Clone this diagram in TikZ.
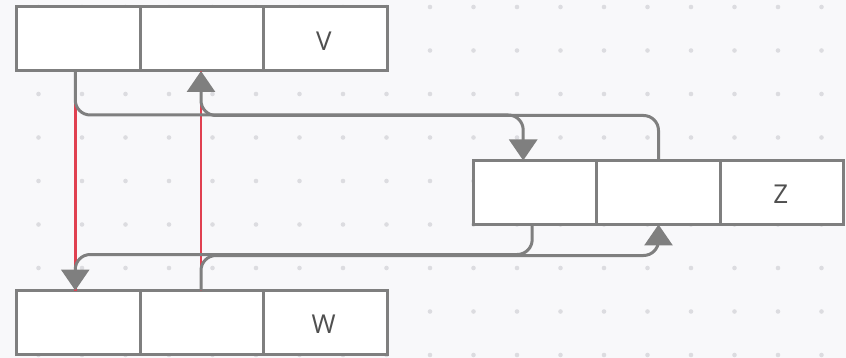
\documentclass[tikz,border=0pt]{standalone}
\usepackage{fontspec}
\setmainfont{Open Sans}
\usetikzlibrary{arrows.meta}
\definecolor{bgcol}{HTML}{F8F8FA}
\definecolor{dotcol}{HTML}{DCDCE0}
\definecolor{linecol}{HTML}{7F7F7F}
\definecolor{redcol}{HTML}{E04050}
\definecolor{txtcol}{HTML}{505050}
\begin{document}
\begin{tikzpicture}[x=1pt,y=-1pt,
  cell/.style={draw=linecol, line width=3pt, fill=white, minimum width=123.5pt,
    minimum height=64pt, inner sep=0pt, outer sep=0pt, text=txtcol,
    font=\fontsize{26}{30}\selectfont},
  label/.style={text=txtcol, font=\fontsize{26}{30}\selectfont, inner sep=0pt},
  conn/.style={draw=linecol, line width=3pt, rounded corners=15pt,
    -{Triangle[width=28pt,length=21pt]}},
  redline/.style={draw=redcol, line width=2.5pt}]
  % background with dot grid
  \fill[bgcol] (0,0) rectangle (846,358);
  \useasboundingbox (0,0) rectangle (846,358);
  \foreach \i in {0,...,18}
    \foreach \j in {0,...,8}
      \fill[dotcol] (38.5+43.5*\i, 7+43.5*\j) circle (2.3pt);

  % cells
  \node[cell] (v1) at (78.25,39) {};
  \node[cell] (v2) at (201.75,39) {};
  \node[cell] (v3) at (325.25,39) {};
  \node[cell] (w1) at (78.25,322.5) {};
  \node[cell] (w2) at (201.75,322.5) {};
  \node[cell] (w3) at (325.25,322.5) {};
  \node[cell] (z1) at (535.2,192.5) {};
  \node[cell] (z2) at (658.5,192.5) {};
  \node[cell] (z3) at (781.8,192.5) {};

  % cell labels, sitting slightly below centre
  \node[label] (vl) at ([xshift=-1.5pt,yshift=-2pt]v3.center) {V};
  \node[label] (wl) at ([xshift=-1.5pt,yshift=-2pt]w3.center) {W};
  \node[label] (zl) at ([xshift=-1pt,yshift=-2pt]z3.center) {Z};

  % red links
  \draw[redline] ([xshift=-3pt]v1.south) -- ([xshift=-3pt]w1.north);
  \draw[redline] ([xshift=-0.75pt]w2.north) -- ([xshift=-0.75pt]v2.south);

  % grey connectors
  \draw[conn] ([xshift=-3pt]v1.south) -- ++(0,44) -| ([xshift=-12pt]z1.north);
  \draw[conn] (z2.north) -- ++(0,-45) -| ([xshift=-0.75pt]v2.south);
  \draw[conn] ([xshift=-3pt]z1.south) -- ++(0,30) -| ([xshift=-3pt]w1.north);
  \draw[conn] ([xshift=-0.75pt]w2.north) -- ++(0,-35) -| (z2.south);
\end{tikzpicture}
\end{document}
